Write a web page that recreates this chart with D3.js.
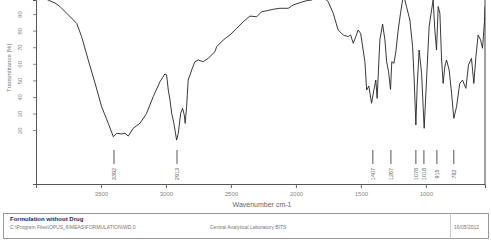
<!DOCTYPE html>
<html lang="en">
<head>
    <meta charset="UTF-8">
    <title>Formulation without Drug</title>
    <style>
        body { margin: 0; background: #fff; }
        text { font-family: "Liberation Sans", Arial, sans-serif; }
    </style>
</head>
<body>
<div id="chart"></div>
<script src="https://cdn.jsdelivr.net/npm/d3@7"></script>
<script>
    const width = 491,
        height = 244;
    const plot = {"left": 36, "right": 485, "top": 0, "bottom": 184};

    // spectrum (wavenumber cm-1, transmittance %)
    const wavenumbers = [4000, 3969, 3908, 3854, 3815, 3764, 3687, 3649, 3598, 3546, 3495, 3444, 3405, 3379,
        3341, 3315, 3290, 3252, 3200, 3149, 3098, 3046, 3008, 2995, 2982, 2969, 2956, 2939, 2918, 2905,
        2887, 2872, 2859, 2852, 2841, 2829, 2802, 2777, 2752, 2713, 2675, 2623, 2610, 2559, 2508, 2456,
        2405, 2354, 2302, 2264, 2225, 2175, 2123, 2059, 2021, 1969, 1918, 1879, 1831, 1792, 1752, 1713,
        1675, 1636, 1598, 1579, 1559, 1539, 1521, 1502, 1469, 1456, 1439, 1418, 1400, 1385, 1375, 1354,
        1333, 1315, 1302, 1287, 1272, 1262, 1246, 1231, 1213, 1195, 1179, 1169, 1149, 1123, 1102, 1090,
        1077, 1067, 1052, 1033, 1021, 1013, 995, 975, 956, 944, 931, 918, 905, 892, 879, 867, 854, 841,
        821, 802, 785, 764, 739, 718, 692, 672, 649, 631, 615, 598, 579, 564, 549, 545];
    const transmittance = [102, 101.5, 98.5, 96.7, 94.5, 90.5, 84.4, 76.4, 62.3, 48.4, 34.1, 24.1, 16.0, 18.1,
        17.7, 18.1, 16.4, 21.1, 24.1, 30.1, 40.2, 49.2, 53.9, 53.3, 44.2, 38.2, 30.1, 24.1, 14.0, 18.1,
        30.1, 33.2, 29.1, 24.1, 34.1, 50.2, 56.3, 61.3, 62.3, 61.3, 63.3, 67.3, 70.3, 74.4, 77.4, 81.4,
        85.4, 88.8, 88.4, 91.4, 92.0, 92.9, 93.5, 93.5, 95.5, 96.9, 98.1, 98.5, 100.3, 100.3, 97.5, 90.5,
        80.4, 77.4, 76.4, 77.4, 72.4, 76.4, 80.4, 78.4, 61.3, 44.2, 46.6, 36.2, 44.2, 50.2, 39.2, 74.4,
        84.0, 74.4, 61.3, 55.2, 44.6, 61.3, 60.3, 67.3, 80.4, 90.5, 98.5, 100.9, 94.5, 86.4, 70.3, 50.2,
        23.1, 46.2, 68.3, 54.3, 34.1, 21.1, 50.2, 82.4, 92.5, 98.5, 80.4, 68.3, 94.5, 90.5, 62.3, 48.2, 58.3, 62.3,
        56.3, 42.2, 27.1, 34.1, 48.2, 50.2, 45.2, 59.3, 63.3, 48.2, 64.3, 77.4, 74.4, 69.4, 85.4, 94.5];

    const peakPositions = [3400, 2915, 1408, 1269, 1077, 1015, 915, 785];
    const peakLabels = ["3392", "2913", "1407", "1267", "1078", "1018", "915", "782"];

    const xTicks = [3500, 3000, 2500, 2000, 1500, 1000];
    const yTicks = [20, 30, 40, 50, 60, 70, 80, 90];

    const data = wavenumbers.map((w, i) => ({"x": w, "y": transmittance[i]}));

    let svg = d3.select("#chart")
        .append("svg")
        .attr("width", width)
        .attr("height", height);

    let axis = {
        "xScale": d3.scaleLinear().domain([4000, 545]).range([plot.left, plot.right]),

        "yScale": d3.scaleLinear().domain([-12.5, 98.5]).range([plot.bottom, plot.top]),

        "draw": function() {
            this.xAxis();
            this.yAxis();
            this.frame();
        },
        "xAxis": function() {
            let xAxis = d3.axisBottom(this.xScale)
                .tickValues(xTicks)
                .tickSizeOuter(0)
                .tickSize(4)
                .tickFormat(d3.format("d"));

            let g = svg.append("g")
                .classed("xaxis", true)
                .attr("transform", `translate(0,${plot.bottom})`)
                .call(xAxis);
            g.select(".domain").attr("stroke", "#555");
            g.selectAll(".tick line").attr("stroke", "#666");
            g.selectAll(".tick text")
                .attr("y", 8)
                .attr("fill", "#888")
                .style("font-size", "6px");

            svg.append("text")
                .attr("x", 262)
                .attr("y", 207)
                .attr("text-anchor", "middle")
                .attr("fill", "#666")
                .style("font-size", "7px")
                .text("Wavenumber cm-1");
        },
        "yAxis": function() {
            let yAxis = d3.axisLeft(this.yScale)
                .tickValues(yTicks)
                .tickSizeOuter(0)
                .tickSize(3);

            let g = svg.append("g")
                .classed("yaxis", true)
                .attr("transform", `translate(${plot.left},0)`)
                .call(yAxis);
            g.select(".domain").attr("stroke", "#555");
            g.selectAll(".tick line").attr("stroke", "#888");
            g.selectAll(".tick text")
                .attr("x", null)
                .attr("dy", null)
                .attr("text-anchor", "middle")
                .attr("transform", "translate(-14,0) rotate(-90)")
                .attr("fill", "#888")
                .style("font-size", "6px");

            svg.append("text")
                .attr("transform", "translate(11,68) rotate(-90)")
                .attr("text-anchor", "middle")
                .attr("fill", "#777")
                .style("font-size", "6px")
                .text("Transmittance [%]");
        },
        "frame": function() {
            svg.append("line")
                .attr("x1", plot.right).attr("x2", plot.right)
                .attr("y1", plot.top).attr("y2", plot.bottom)
                .attr("stroke", "#444");
        }
    };

    let chart = {
        "draw": function() {
            this.spectrum();
            this.peaks();
            this.footer();
        },
        "spectrum": function() {
            svg.append("clipPath")
                .attr("id", "clip")
                .append("rect")
                .attr("x", plot.left)
                .attr("y", plot.top)
                .attr("width", plot.right - plot.left)
                .attr("height", plot.bottom - plot.top);

            let line = d3.line()
                .x(d => axis.xScale(d.x))
                .y(d => axis.yScale(d.y));

            svg.append("path")
                .datum(data)
                .attr("clip-path", "url(#clip)")
                .attr("d", line)
                .style("fill", "none")
                .style("stroke", "#222")
                .style("stroke-width", 0.9);
        },
        "peaks": function() {
            let g = svg.append("g").classed("peaks", true);
            g.selectAll("line")
                .data(peakPositions)
                .join("line")
                .attr("x1", d => axis.xScale(d))
                .attr("x2", d => axis.xScale(d))
                .attr("y1", 150)
                .attr("y2", 164)
                .attr("stroke", "#555");
            g.selectAll("text")
                .data(peakPositions)
                .join("text")
                .attr("transform", d => `translate(${axis.xScale(d) + 2},174) rotate(-90)`)
                .attr("text-anchor", "middle")
                .attr("fill", "#666")
                .style("font-size", "5.5px")
                .text((d, i) => peakLabels[i]);
        },
        "footer": function() {
            let g = svg.append("g").classed("footer", true);
            g.append("rect")
                .attr("x", 3.5).attr("y", 213.5)
                .attr("width", 485).attr("height", 25)
                .attr("fill", "none")
                .attr("stroke", "#999");
            g.append("line")
                .attr("x1", 450.5).attr("x2", 450.5)
                .attr("y1", 213.5).attr("y2", 238.5)
                .attr("stroke", "#ccc");
            g.append("text")
                .attr("x", 10).attr("y", 221)
                .attr("fill", "#1c2b57")
                .style("font-size", "6px")
                .style("font-weight", "bold")
                .text("Formulation without Drug");
            g.append("text")
                .attr("x", 10).attr("y", 228.5)
                .attr("fill", "#777")
                .style("font-size", "5px")
                .text("C:\\Program Files\\OPUS_6\\MEAS\\FORMULATION\\WD.0");
            g.append("text")
                .attr("x", 210).attr("y", 228.5)
                .attr("fill", "#777")
                .style("font-size", "5px")
                .text("Central Analytical Laboratory BITS");
            g.append("text")
                .attr("x", 454).attr("y", 228.5)
                .attr("fill", "#777")
                .style("font-size", "5px")
                .text("16/05/2012");
        }
    };

    axis.draw();
    chart.draw();
</script>
</body>
</html>
